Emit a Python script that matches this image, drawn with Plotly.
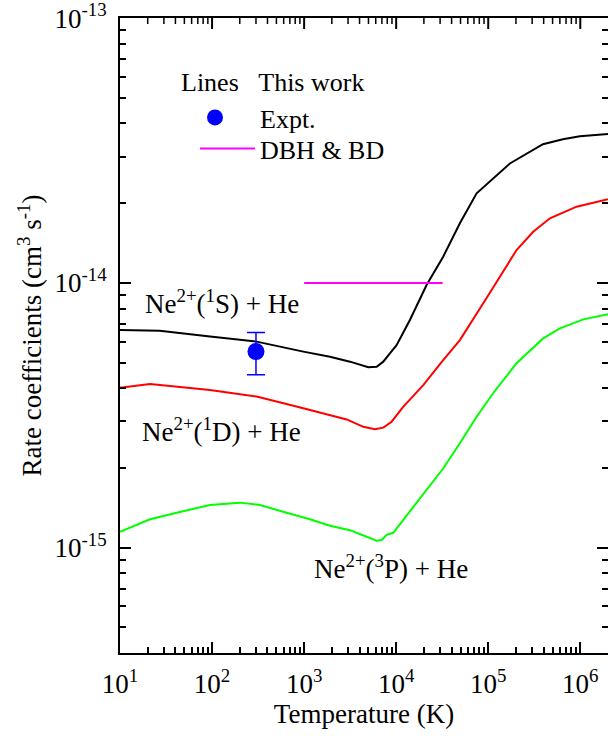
import plotly.graph_objects as go

# ---- data ----
T_1S = [10, 27, 95, 305, 980, 1910, 3150, 4980, 6140, 7240, 8550, 1.01e4, 1.41e4,
        2.14e4, 3.24e4, 4.92e4, 7.48e4, 1.04e5, 1.72e5, 3.93e5, 6.47e5, 9.9e5, 2.0e6]
K_1S = [6.64e-15, 6.59e-15, 6.27e-15, 6.00e-15, 5.50e-15, 5.26e-15, 5.04e-15, 4.80e-15,
        4.82e-15, 5.04e-15, 5.42e-15, 5.82e-15, 7.24e-15, 9.82e-15, 1.256e-14, 1.679e-14,
        2.178e-14, 2.41e-14, 2.825e-14, 3.34e-14, 3.49e-14, 3.58e-14, 3.65e-14]

T_1D = [10, 21.2, 94.8, 305, 980, 2900, 4400, 5870, 7240, 8930, 1.19e4, 1.97e4, 3.24e4,
        4.92e4, 8.83e4, 1.34e5, 2.03e5, 3.08e5, 4.68e5, 9.12e5, 2.0e6]
K_1D = [4.02e-15, 4.15e-15, 3.94e-15, 3.72e-15, 3.36e-15, 3.05e-15, 2.86e-15, 2.80e-15,
        2.84e-15, 2.99e-15, 3.40e-15, 4.11e-15, 5.11e-15, 6.08e-15, 8.38e-15, 1.054e-14,
        1.33e-14, 1.56e-14, 1.754e-14, 1.94e-14, 2.07e-14]

T_3P = [10, 21.2, 41.3, 94.8, 201, 331, 646, 1156, 1910, 3150, 4780, 6140, 6950, 7870,
        9290, 1.41e4, 3.24e4, 4.92e4, 7.48e4, 1.13e5, 2.03e5, 3.95e5, 6.0e5, 1.08e6, 2.0e6]
K_3P = [1.148e-15, 1.28e-15, 1.355e-15, 1.449e-15, 1.479e-15, 1.449e-15, 1.355e-15,
        1.28e-15, 1.21e-15, 1.164e-15, 1.099e-15, 1.062e-15, 1.069e-15, 1.117e-15,
        1.138e-15, 1.368e-15, 1.99e-15, 2.48e-15, 3.12e-15, 3.83e-15, 4.97e-15,
        6.17e-15, 6.73e-15, 7.28e-15, 7.62e-15]

EXPT_T = [300]
EXPT_K = [5.5e-15]
EXPT_ERR = [1.0e-15]

DBH_T = [1000, 32000]
DBH_K = [1.0e-14, 1.0e-14]

X_TICKS = [10, 1e2, 1e3, 1e4, 1e5, 1e6]
X_TICKTEXT = ["10<sup>1</sup>", "10<sup>2</sup>", "10<sup>3</sup>",
              "10<sup>4</sup>", "10<sup>5</sup>", "10<sup>6</sup>"]
Y_TICKS = [1e-15, 1e-14, 1e-13]
Y_TICKTEXT = ["10<sup>-15</sup>", "10<sup>-14</sup>", "10<sup>-13</sup>"]

X_MINOR = [m * 10 ** e for e in range(1, 6) for m in range(2, 10)]
Y_MINOR = [m * 1e-16 for m in range(4, 10)] + [m * 1e-15 for m in range(2, 10)] + \
          [m * 1e-14 for m in range(2, 10)]

X_RANGE = [1, 6.301]
Y_RANGE = [-15.398, -12.9995]

FONT = "Liberation Serif"
W, H = 608, 736
PLOT_L, PLOT_R, PLOT_T, PLOT_B = 120, 608, 18, 653   # plot area in pixels
MAJOR_LEN, MINOR_LEN = 11, 6


def px(sx):
    return (sx - PLOT_L) / (PLOT_R - PLOT_L)


def py(sy):
    return 1 - (sy - PLOT_T) / (PLOT_B - PLOT_T)


fig = go.Figure()
fig.add_trace(go.Scatter(x=T_1S, y=K_1S, mode="lines", line=dict(color="#000000", width=2),
                         showlegend=False))
fig.add_trace(go.Scatter(x=T_1D, y=K_1D, mode="lines", line=dict(color="#ff0000", width=2),
                         showlegend=False))
fig.add_trace(go.Scatter(x=T_3P, y=K_3P, mode="lines", line=dict(color="#00ff00", width=2),
                         showlegend=False))
# Expt. on an identical copy of the y scale (y2) that carries the right-hand ticks
fig.add_trace(go.Scatter(x=EXPT_T, y=EXPT_K, mode="markers", name="Expt.", legend="legend",
                         xaxis="x", yaxis="y2",
                         marker=dict(color="#0000ff", size=17),
                         error_y=dict(type="data", array=EXPT_ERR, arrayminus=EXPT_ERR,
                                      color="#0000ff", thickness=1.5, width=9)))
fig.add_trace(go.Scatter(x=DBH_T, y=DBH_K, mode="lines", name="DBH & BD", legend="legend2",
                         line=dict(color="#ff00ff", width=2)))

tick_style = dict(type="log", showgrid=False, zeroline=False, tickcolor="black",
                  tickmode="array", automargin=False)
tickfont = dict(family=FONT, size=27, color="black")


def minor(vals, side):
    return dict(tickmode="array", tickvals=vals, ticks=side, ticklen=MINOR_LEN,
                tickwidth=1.5, tickcolor="black", showgrid=False)


plot_h = PLOT_B - PLOT_T

fig.update_layout(
    xaxis=dict(
        **tick_style, ticks="inside", ticklen=MAJOR_LEN, tickwidth=2,
        range=X_RANGE, tickvals=X_TICKS, ticktext=X_TICKTEXT,
        tickfont=tickfont, ticklabelstandoff=6, ticklabeloverflow="allow",
        showline=True, linewidth=2, linecolor="black", mirror=True,
        minor=minor(X_MINOR, "inside"),
        title=dict(text="Temperature (K)", font=dict(family=FONT, size=27, color="black"),
                   standoff=4),
    ),
    yaxis=dict(
        **tick_style, ticks="inside", ticklen=MAJOR_LEN, tickwidth=2,
        range=Y_RANGE, tickvals=Y_TICKS, ticktext=Y_TICKTEXT,
        tickfont=tickfont, ticklabelstandoff=6, ticklabeloverflow="allow",
        showline=True, linewidth=2, linecolor="black", mirror=True,
        minor=minor(Y_MINOR, "inside"),
        title=dict(text="Rate coefficients (cm<sup>3</sup> s<sup>-1</sup>)",
                   font=dict(family=FONT, size=27, color="black"), standoff=5),
    ),
    # right frame ticks
    yaxis2=dict(**tick_style, ticks="inside", ticklen=MAJOR_LEN, tickwidth=2,
                overlaying="y", side="right", anchor="x",
                range=Y_RANGE, tickvals=Y_TICKS, showticklabels=False, showline=False,
                minor=minor(Y_MINOR, "inside")),
)

# top frame ticks: short segments at the tick values of the x scale, hanging from the frame
for v in X_TICKS[1:]:
    fig.add_shape(type="line", xref="x", yref="paper", x0=v, x1=v,
                  y0=1, y1=1 - MAJOR_LEN / plot_h, layer="above",
                  line=dict(color="black", width=2))
for v in X_MINOR:
    fig.add_shape(type="line", xref="x", yref="paper", x0=v, x1=v,
                  y0=1, y1=1 - MINOR_LEN / plot_h, layer="above",
                  line=dict(color="black", width=1.5))

labels = [
    ("Ne<sup>2+</sup>(<sup>1</sup>S) + He", 1.25, -14.072),
    ("Ne<sup>2+</sup>(<sup>1</sup>D) + He", 1.217, -14.556),
    ("Ne<sup>2+</sup>(<sup>3</sup>P) + He", 3.085, -15.073),
]
for txt, lx, ly in labels:
    fig.add_annotation(text=txt, x=lx, y=ly, xref="x", yref="y", xanchor="left",
                       yanchor="middle", showarrow=False,
                       font=dict(family=FONT, size=27, color="black"))

fig.add_annotation(text="Lines\u00a0\u00a0\u00a0This work", x=px(179), y=py(82),
                   xref="paper", yref="paper", xanchor="left", yanchor="middle",
                   showarrow=False, font=dict(family=FONT, size=26, color="black"))

legend_common = dict(xanchor="left", yanchor="top", bgcolor="rgba(0,0,0,0)",
                     borderwidth=0, font=dict(family=FONT, size=26, color="black"))

fig.update_layout(
    width=W, height=H,
    margin=dict(l=PLOT_L, r=W - PLOT_R, t=PLOT_T, b=H - PLOT_B),
    paper_bgcolor="white", plot_bgcolor="white",
    font=dict(family=FONT, size=27, color="black"),
    legend=dict(x=px(170), y=py(94), itemwidth=80, **legend_common),
    legend2=dict(x=px(195), y=py(125), itemwidth=55, **legend_common),
)

# remove the default 8px page margin so the figure fills the window exactly
fig.write_html("out.html", config={"displayModeBar": False},
               post_script="document.body.style.margin='0px';")
